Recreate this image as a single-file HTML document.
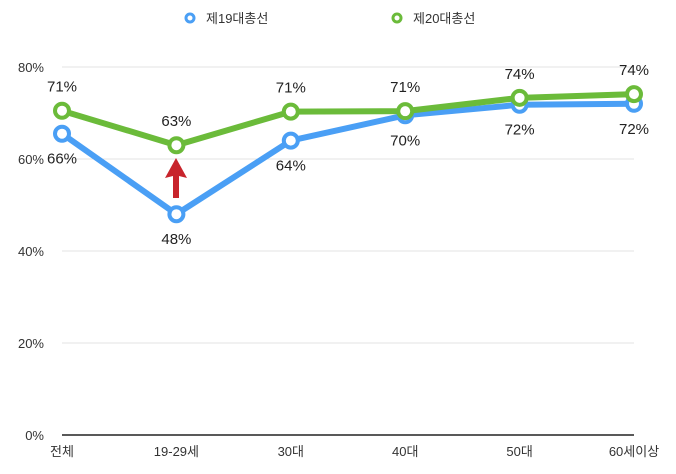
<!DOCTYPE html>
<html><head><meta charset="utf-8"><style>
body{margin:0;background:#fff;width:676px;height:474px;overflow:hidden}
svg{display:block;font-family:"Liberation Sans","Noto Sans CJK KR",sans-serif}
</style></head><body>
<svg id="c" width="676" height="474"></svg>
<script>
const categories=["전체","19-29세","30대","40대","50대","60세이상"];
const series19=[65.5,48,64,69.5,71.8,72];
const series20=[70.5,63,70.3,70.4,73.3,74.1];
const labels19=["66%","48%","64%","70%","72%","72%"];
const labels20=["71%","63%","71%","71%","74%","74%"];
const yTicks=[0,20,40,60,80];
const NS="http://www.w3.org/2000/svg";
const svg=document.getElementById("c");
const x=i=>62+i*114.4;
const y=v=>435-v*4.6;
function el(t,a,txt){const e=document.createElementNS(NS,t);for(const k in a)e.setAttribute(k,a[k]);if(txt!=null)e.textContent=txt;svg.appendChild(e);return e;}
yTicks.forEach(v=>{
  if(v>0){const g=el("line",{x1:62,x2:634,y1:y(v),y2:y(v),stroke:"#e3e3e3","stroke-width":1});
  
  }
  const t=el("text",{x:44,y:y(v)+5,"text-anchor":"end","font-size":13,fill:"#333"},v+"%");
  
  
});
const ax=el("line",{x1:62,x2:634,y1:435,y2:435,stroke:"#222","stroke-width":1.5});


categories.forEach((c,i)=>{
  const t=el("text",{x:x(i),y:456,"text-anchor":"middle","font-size":13,fill:"#333"},c);
  
  
});
function drawSeries(vals,labs,color,name,above){
  const p=el("polyline",{points:vals.map((v,i)=>x(i)+","+y(v)).join(" "),fill:"none",stroke:color,"stroke-width":6,"stroke-linejoin":"round"});
  
  
  vals.forEach((v,i)=>{
    const m=el("circle",{cx:x(i),cy:y(v),r:7,fill:"#fff",stroke:color,"stroke-width":4});
    
    
    const t=el("text",{x:x(i),y:above?y(v)-19:y(v)+30,"text-anchor":"middle","font-size":15,fill:"#222"},labs[i]);
    
    
  });
}
drawSeries(series19,labels19,"#4a9ff5","series19",false);
drawSeries(series20,labels20,"#6bbb3a","series20",true);
const ar=el("path",{d:"M176 158 L187 178 L179 176 L179 198 L173 198 L173 176 L165 178 Z",fill:"#c8242c"});


[["제19대총선","#4a9ff5",190],["제20대총선","#6bbb3a",397]].forEach(([n,c,lx])=>{
  const m=el("circle",{cx:lx,cy:18,r:4,fill:"#fff",stroke:c,"stroke-width":3});
  
  
  const t=el("text",{x:lx+16,y:23,"font-size":13,fill:"#333"},n);
  
  
});
</script>
</body></html>
